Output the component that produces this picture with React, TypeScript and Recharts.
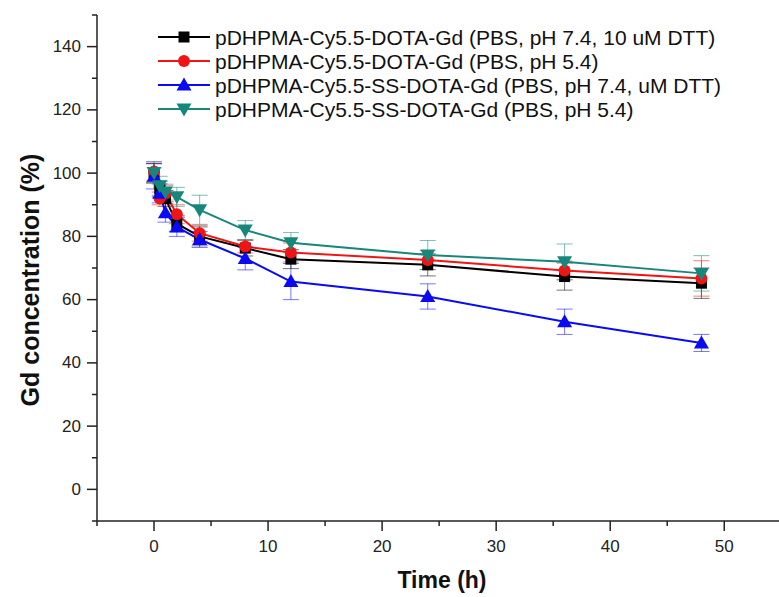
import React from 'react';
import { LineChart, Line, XAxis, YAxis, ErrorBar, Legend } from 'recharts';

// sampling times (h)
const times = [0, 0.5, 1, 2, 4, 8, 12, 24, 36, 48];

// Gd concentration (%), with error bar half-widths
const dotaDtt = [100, 95, 92, 84, 80, 76.3, 72.8, 71, 67.3, 65.2];
const dotaDttErr = [3, 2.5, 2.5, 2.5, 3, 2.5, 3, 3.5, 4.3, 4.8];
const dotaAcid = [100.5, 92, 93.5, 87, 81, 76.8, 74.9, 72.5, 69.2, 66.7];
const dotaAcidErr = [3, 2, 2.5, 3, 2.5, 2, 3, 3, 3, 5.6];
const ssDtt = [99, 93.6, 87.5, 83, 79, 73, 65.7, 61, 53, 46.3];
const ssDttErr = [4, 3, 3, 3, 2.5, 3.6, 5.7, 4, 4, 2.7];
const ssAcid = [100.2, 96, 94, 92.5, 88.4, 82, 78, 74.1, 72, 68.3];
const ssAcidErr = [3.5, 3, 2.5, 3, 4.6, 3, 3.2, 4.6, 5.6, 5.6];

const xTicks = [-5, 0, 5, 10, 15, 20, 25, 30, 35, 40, 45, 50];
const yTicks = [-10, 0, 10, 20, 30, 40, 50, 60, 70, 80, 90, 100, 110, 120, 130, 140, 150];

const FONT = '"Liberation Sans", Arial, sans-serif';
const AXIS = '#222';

const data = times.map((t, i) => ({
  t,
  a: dotaDtt[i], aE: dotaDttErr[i],
  b: dotaAcid[i], bE: dotaAcidErr[i],
  c: ssDtt[i], cE: ssDttErr[i],
  d: ssAcid[i], dE: ssAcidErr[i],
}));

type Shape = 'square' | 'circle' | 'up' | 'down';

const series: { key: string; name: string; color: string; shape: Shape }[] = [
  { key: 'a', name: 'pDHPMA-Cy5.5-DOTA-Gd (PBS, pH 7.4, 10 uM DTT)', color: '#000000', shape: 'square' },
  { key: 'b', name: 'pDHPMA-Cy5.5-DOTA-Gd (PBS, pH 5.4)', color: '#f01414', shape: 'circle' },
  { key: 'c', name: 'pDHPMA-Cy5.5-SS-DOTA-Gd (PBS, pH 7.4, uM DTT)', color: '#0a0af5', shape: 'up' },
  { key: 'd', name: 'pDHPMA-Cy5.5-SS-DOTA-Gd (PBS, pH 5.4)', color: '#17877c', shape: 'down' },
];

const marker = (shape: Shape, cx: number, cy: number, color: string, key?: React.Key) => {
  if (shape === 'square') return <rect key={key} x={cx - 5.5} y={cy - 5.5} width={11} height={11} fill={color} />;
  if (shape === 'circle') return <circle key={key} cx={cx} cy={cy} r={6} fill={color} />;
  if (shape === 'up')
    return <polygon key={key} points={`${cx},${cy - 7.5} ${cx - 7.5},${cy + 5.5} ${cx + 7.5},${cy + 5.5}`} fill={color} />;
  return <polygon key={key} points={`${cx},${cy + 7.5} ${cx - 7.5},${cy - 5.5} ${cx + 7.5},${cy - 5.5}`} fill={color} />;
};

const XTick = (props: any) => {
  const { x, y, payload } = props;
  const major = payload.value % 10 === 0;
  return (
    <g>
      <line x1={x} x2={x} y1={y} y2={y + (major ? 10 : 5)} stroke={AXIS} strokeWidth={1.5} />
      {major && (
        <text x={x} y={y + 25} textAnchor="middle" dominantBaseline="central" fontSize={17} fill="#222" fontFamily={FONT}>
          {payload.value}
        </text>
      )}
    </g>
  );
};

const YTick = (props: any) => {
  const { x, y, payload } = props;
  const major = payload.value % 20 === 0 && payload.value >= 0 && payload.value <= 140;
  return (
    <g>
      <line x1={x} x2={x - (major ? 10 : 5)} y1={y} y2={y} stroke={AXIS} strokeWidth={1.5} />
      {major && (
        <text x={x - 16} y={y} textAnchor="end" dominantBaseline="central" fontSize={17} fill="#222" fontFamily={FONT}>
          {payload.value}
        </text>
      )}
    </g>
  );
};

const LegendBox = () => (
  <svg width={620} height={100} style={{ display: 'block' }}>
    {series.map((s, i) => {
      const cy = 12 + i * 24;
      return (
        <g key={s.key}>
          <line x1={3} x2={55} y1={cy} y2={cy} stroke={s.color} strokeWidth={2} />
          {marker(s.shape, 29, cy, s.color)}
          <text x={60} y={cy} dominantBaseline="central" fontSize={21} fill="#111" fontFamily={FONT}>
            {s.name}
          </text>
        </g>
      );
    })}
  </svg>
);

export default function App() {
  return (
    <div style={{ position: 'absolute', left: 0, top: 0, width: 779, height: 597, background: '#fff' }}>
      <LineChart width={779} height={597} data={data} margin={{ top: 15, right: 0, bottom: 0, left: 37 }}>
        <XAxis
          type="number"
          dataKey="t"
          domain={[-5, 54.8]}
          allowDataOverflow
          ticks={xTicks}
          interval={0}
          height={76}
          tickSize={0}
          tickMargin={0}
          tickLine={false}
          axisLine={{ stroke: AXIS, strokeWidth: 1.5 }}
          tick={(p: any) => <XTick {...p} />}
          label={() => (
            <text x={442} y={580} textAnchor="middle" dominantBaseline="central" fontSize={23} fontWeight="bold" fill="#111" fontFamily={FONT}>
              Time (h)
            </text>
          )}
        />
        <YAxis
          type="number"
          domain={[-10, 150]}
          ticks={yTicks}
          interval={0}
          width={60}
          tickSize={0}
          tickMargin={0}
          tickLine={false}
          axisLine={{ stroke: AXIS, strokeWidth: 1.5 }}
          tick={(p: any) => <YTick {...p} />}
          label={() => (
            <text x={30} y={280} transform="rotate(-90 30 280)" textAnchor="middle" dominantBaseline="central" fontSize={25} fontWeight="bold" fill="#111" fontFamily={FONT}>
              Gd concentration (%)
            </text>
          )}
        />
        <Legend
          layout="vertical"
          align="center"
          verticalAlign="middle"
          content={() => <LegendBox />}
          wrapperStyle={{ left: 155, top: 25, width: 620, height: 100 }}
        />
        {series.map((s) => (
          <Line
            key={s.key}
            dataKey={s.key}
            name={s.name}
            stroke={s.color}
            strokeWidth={2}
            isAnimationActive={false}
            dot={(p: any) => marker(s.shape, p.cx, p.cy, s.color, p.index)}
            activeDot={false}
          >
            <ErrorBar dataKey={`${s.key}E`} direction="y" width={8} strokeWidth={1} stroke={s.color} strokeOpacity={0.55} />
          </Line>
        ))}
      </LineChart>
    </div>
  );
}
